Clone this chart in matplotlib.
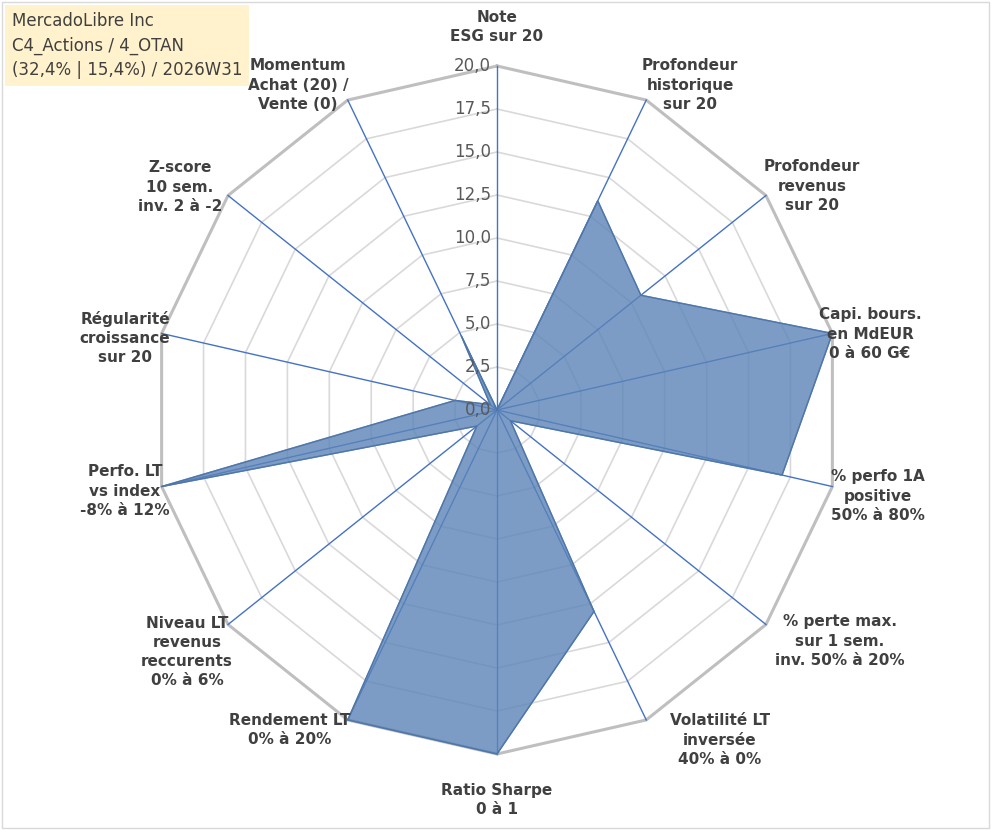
import matplotlib.pyplot as plt
import numpy as np

TITLE = "MercadoLibre Inc\nC4_Actions / 4_OTAN\n(32,4% | 15,4%) / 2026W31"
CATEGORIES = [
    "Note\nESG sur 20",
    "Profondeur\nhistorique\nsur 20",
    "Profondeur\nrevenus\nsur 20",
    "Capi. bours.\nen MdEUR\n0 à 60 G€",
    "% perfo 1A\npositive\n50% à 80%",
    "% perte max.\nsur 1 sem.\ninv. 50% à 20%",
    "Volatilité LT\ninversée\n40% à 0%",
    "Ratio Sharpe\n0 à 1",
    "Rendement LT\n0% à 20%",
    "Niveau LT\nrevenus\nreccurents\n0% à 6%",
    "Perfo. LT\nvs index\n-8% à 12%",
    "Régularité\ncroissance\nsur 20",
    "Z-score\n10 sem.\ninv. 2 à -2",
    "Momentum\nAchat (20) /\nVente (0)",
]
VALUES = [0.0, 13.5, 10.7, 20.0, 17.0, 1.0, 13.0, 20.0, 20.0, 1.5, 20.0, 2.5, 0.5, 4.8]
TICKS = [0.0, 2.5, 5.0, 7.5, 10.0, 12.5, 15.0, 17.5, 20.0]
RMAX = 20.0

# label anchor positions (pixel coords in reference), used for placement only
LABEL_PX = [(497, 27), (690, 85), (812, 186), (870, 334), (878, 496), (840, 641),
            (720, 740), (497, 800), (290, 730), (187, 652), (125, 491), (125, 338),
            (180, 187), (298, 85)]

n = len(CATEGORIES)
ang = np.pi / 2 - np.arange(n) * 2 * np.pi / n
scale = RMAX / 344.0
cx, cy = 497, 410

fig = plt.figure(figsize=(9.91, 8.3), dpi=100)
ax = fig.add_axes([0, 0, 1, 1])
ax.set_xlim(-cx * scale, (991 - cx) * scale)
ax.set_ylim(-(830 - cy) * scale, cy * scale)
ax.axis("off")

# grid polygons
for t in TICKS[1:]:
    xs = np.append(t * np.cos(ang), t * np.cos(ang[0]))
    ys = np.append(t * np.sin(ang), t * np.sin(ang[0]))
    ax.plot(xs, ys, color="#bfbfbf" if t == RMAX else "#d9d9d9",
            linewidth=2.2 if t == RMAX else 1.2, zorder=1)
for a in ang:
    ax.plot([0, RMAX * np.cos(a)], [0, RMAX * np.sin(a)], color="#4472c4", linewidth=1.0, zorder=2)

v = np.array(VALUES)
xs = np.append(v * np.cos(ang), v[0] * np.cos(ang[0]))
ys = np.append(v * np.sin(ang), v[0] * np.sin(ang[0]))
ax.fill(xs, ys, color="#5b84b8", alpha=0.8, zorder=3)
ax.plot(xs, ys, color="#4f76a8", linewidth=1.0, zorder=4)

for t in TICKS:
    ax.text(-0.35, t, f"{t:.1f}".replace(".", ","), ha="right", va="center",
            fontsize=12, color="#595959", zorder=5)

for lab, (px, py) in zip(CATEGORIES, LABEL_PX):
    ax.text((px - cx) * scale, (cy - py) * scale, lab, ha="center", va="center",
            fontsize=11, fontweight="bold", color="#404040", linespacing=1.35, zorder=5)

fig.text(0.012, 0.985, TITLE, ha="left", va="top", fontsize=12, color="#404040",
         linespacing=1.45, bbox=dict(facecolor="#fff2cc", edgecolor="none", pad=5))
fig.patches.append(plt.Rectangle((0.002, 0.002), 0.996, 0.996, transform=fig.transFigure,
                                 fill=False, edgecolor="#d9d9d9", linewidth=1))

fig.savefig("out.png", dpi=100)
